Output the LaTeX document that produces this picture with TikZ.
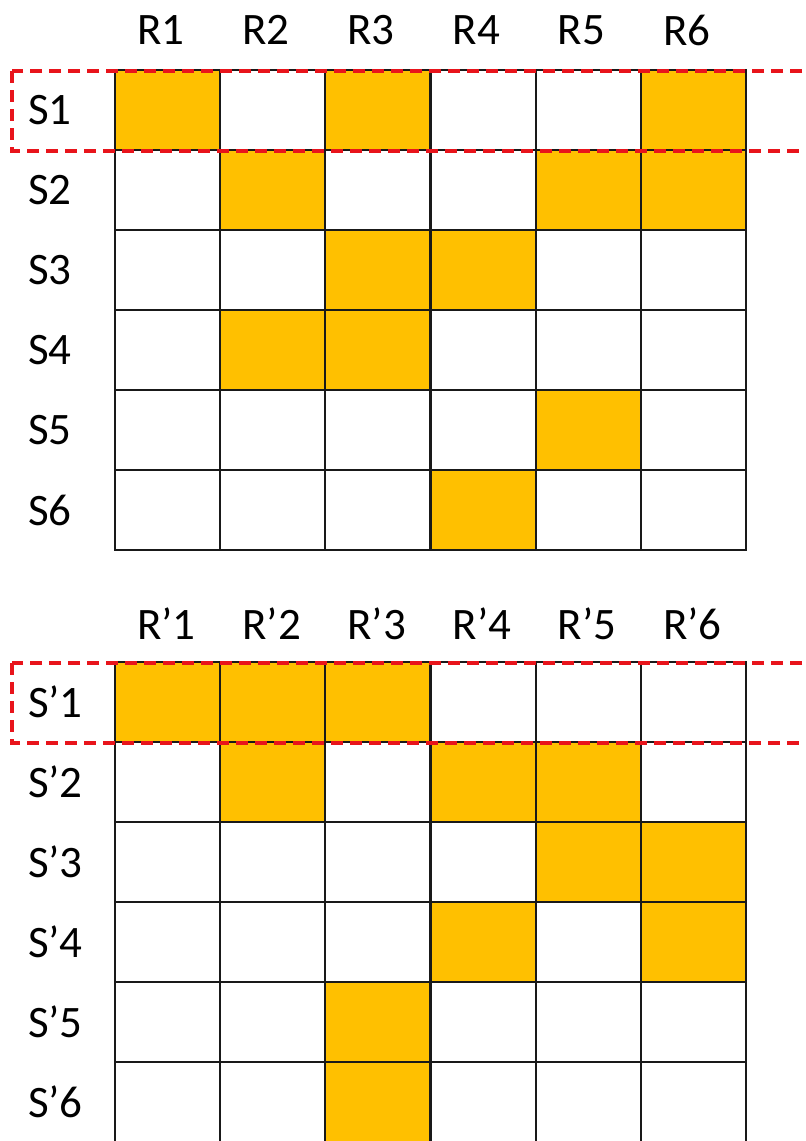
\documentclass[tikz,border=0pt]{standalone}
\usepackage{fontspec}
\setmainfont{Carlito}
\definecolor{cellgold}{HTML}{FFC000}
\definecolor{selred}{HTML}{E8141B}
\begin{document}
\begin{tikzpicture}[x=1pt,y=-1pt,
  lbl/.style={anchor=west,inner sep=0pt,font=\fontsize{45}{50}\selectfont,text=black},
  filled/.style={fill=cellgold,draw=none},
  gridline/.style={draw=black!90,line width=2.3pt},
  selbox/.style={draw=selred,line width=3.5pt,dash pattern=on 12pt off 7pt}]
\useasboundingbox (0,0) rectangle (806,1141);
\clip (0,0) rectangle (806,1141);
\def\colw{105.17}
% ---------- top grid (y0 = 70) ----------
\foreach \r/\c in {1/1,1/3,1/6,2/2,2/5,2/6,3/3,3/4,4/2,4/3,5/5,6/4}{
  \fill[filled] ({115+(\c-1)*\colw},{70+(\r-1)*80}) rectangle ({115+\c*\colw},{70+\r*80});
}
% ---------- bottom grid (y0 = 662) ----------
\foreach \r/\c in {1/1,1/2,1/3,2/2,2/4,2/5,3/5,3/6,4/4,4/6,5/3,6/3}{
  \fill[filled] ({115+(\c-1)*\colw},{662+(\r-1)*80}) rectangle ({115+\c*\colw},{662+\r*80});
}
% grid lines
\foreach \y in {70,662}{
  \foreach \i in {0,...,6}{
    \draw[gridline] ({115+\i*\colw},\y) -- ({115+\i*\colw},{\y+480});
    \draw[gridline] (114,{\y+\i*80}) -- (747,{\y+\i*80});
  }
}
% labels
\foreach \i in {1,...,6}{
  \node[lbl] (R\i) at ({115+(\i-1)*\colw+22},30) {R\i};
  \node[lbl] (S\i) at (28,{70+(\i-0.5)*80}) {S\i};
  \node[lbl] (Rp\i) at ({115+(\i-1)*\colw+22},624) {R’\i};
  \node[lbl] (Sp\i) at (28,{662+(\i-0.5)*80}) {S’\i};
}
% selection boxes
\draw[selbox] (12,71) rectangle (840,151);
\draw[selbox] (12,663) rectangle (840,743);
\end{tikzpicture}
\end{document}
